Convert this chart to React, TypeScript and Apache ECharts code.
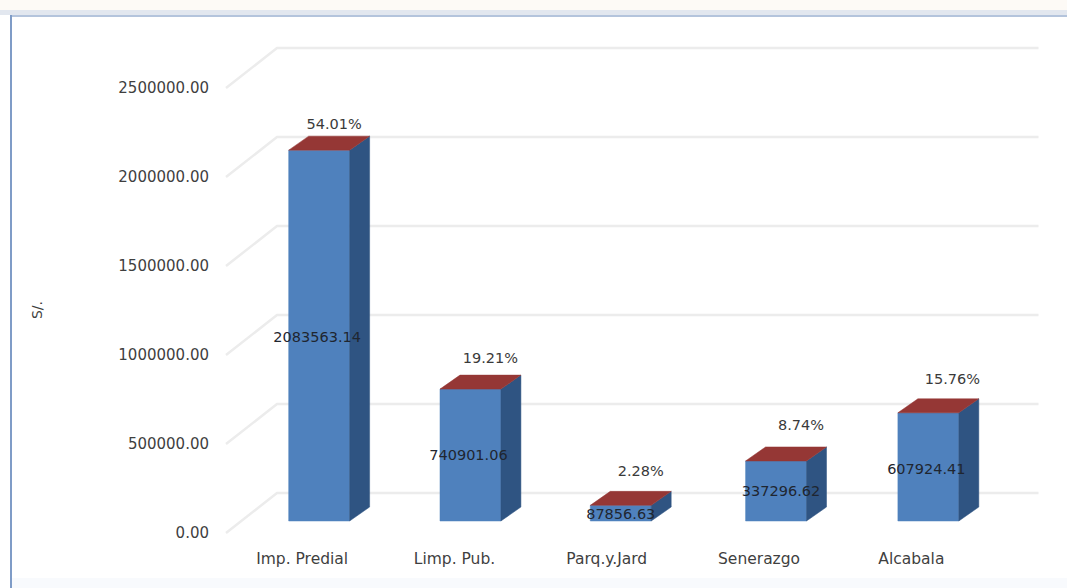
import React, { useEffect, useRef } from "react";
import * as echarts from "echarts";

// Tax collection by concept, in soles
const categories = ["Imp. Predial", "Limp. Pub.", "Parq.y.Jard", "Senerazgo", "Alcabala"];
const amounts = [2083563.14, 740901.06, 87856.63, 337296.62, 607924.41];
const shares = ["54.01%", "19.21%", "2.28%", "8.74%", "15.76%"];
const axisTicks = [0, 500000, 1000000, 1500000, 2000000, 2500000];

const FONT = '"DejaVu Sans", sans-serif';
const FRONT = "#4f81bd";
const SIDE = "#2f5482";
const TOP = "#953735";
const GRID_LINE = "#ececec";

// Oblique projection of the plot box: wall depth, and where the bars sit inside it
const WALL_DX = 51;
const WALL_DY = -40;
const BAR_SHIFT_X = 17;
const BAR_SHIFT_Y = -12;
const BAR_DX = 20;
const BAR_DY = -14;
const BAR_RATIO = 0.4;

// Per-bar fine placement of the bar body and its two labels
const barNudgeX = [0, -1, -3, 0, 0];
const amountNudgeX = [-2, -2, 0, 5, -2];
const amountNudgeY = [1, 0, 1, 0, 2];
const shareNudgeX = [15, 20, 20, 25, 24];
const shareNudgeY = [-26, -31, -34, -36, -34];

function renderWall(params: any, api: any) {
  const v = api.value(1);
  const cs = params.coordSys;
  const y0 = api.coord([0, v])[1];
  const left = cs.x;
  const right = cs.x + cs.width + WALL_DX;
  const backY = y0 + WALL_DY;
  return {
    type: "polyline",
    shape: { points: [[left, y0], [left + WALL_DX, backY], [right, backY]] },
    style: { stroke: GRID_LINE, lineWidth: 2.5, fill: "none" },
    silent: true,
  };
}

function renderBar(params: any, api: any) {
  const i = api.value(0);
  const v = api.value(1);
  const [cx, yTop0] = api.coord([i, v]);
  const yBase0 = api.coord([i, 0])[1];
  const w = api.size([1, 0])[0] * BAR_RATIO;
  const x0 = cx - w / 2 + BAR_SHIFT_X + barNudgeX[i];
  const x1 = x0 + w;
  const yTop = yTop0 + BAR_SHIFT_Y;
  const yBase = yBase0 + BAR_SHIFT_Y;
  const mid = (x0 + x1) / 2;
  const poly = (points: number[][], fill: string) => ({
    type: "polygon",
    shape: { points },
    style: { fill, stroke: fill, lineWidth: 0.5 },
  });
  const text = (t: string, x: number, y: number, fill: string) => ({
    type: "text",
    z2: 10,
    style: { text: t, x, y, fill, font: `14.5px ${FONT}`, align: "center", verticalAlign: "middle" },
  });
  return {
    type: "group",
    children: [
      poly([[x0, yTop], [x1, yTop], [x1, yBase], [x0, yBase]], FRONT),
      poly([[x1, yTop], [x1 + BAR_DX, yTop + BAR_DY], [x1 + BAR_DX, yBase + BAR_DY], [x1, yBase]], SIDE),
      poly([[x0, yTop], [x0 + BAR_DX, yTop + BAR_DY], [x1 + BAR_DX, yTop + BAR_DY], [x1, yTop]], TOP),
      text(v.toFixed(2), mid + amountNudgeX[i], (yTop + yBase) / 2 + amountNudgeY[i], "#1f2630"),
      text(shares[i], mid + shareNudgeX[i], yTop + shareNudgeY[i], "#3a3a3a"),
    ],
  };
}

export default function App() {
  const ref = useRef<HTMLDivElement>(null);

  useEffect(() => {
    document.body.style.margin = "0";
    document.body.style.background = "#ffffff";
    const chart = echarts.init(ref.current!, null, { renderer: "svg" });
    chart.setOption({
      animation: false,
      backgroundColor: "#ffffff",
      grid: { left: 226, top: 88, width: 761.5, height: 445, containLabel: false },
      xAxis: {
        type: "category",
        data: categories,
        axisLine: { show: false },
        axisTick: { show: false },
        splitLine: { show: false },
        axisLabel: { color: "#3f3f3f", fontFamily: FONT, fontSize: 15.5, margin: 18 },
      },
      yAxis: {
        type: "value",
        min: 0,
        max: axisTicks[axisTicks.length - 1],
        interval: axisTicks[1],
        axisLine: { show: false },
        axisTick: { show: false },
        splitLine: { show: false },
        axisLabel: {
          color: "#3f3f3f",
          fontFamily: FONT,
          fontSize: 15,
          margin: 17,
          formatter: (v: number) => v.toFixed(2),
        },
      },
      graphic: [
        { type: "rect", shape: { x: 0, y: 0, width: 1067, height: 10 }, style: { fill: "#fdfaf6" } },
        { type: "rect", shape: { x: 0, y: 10, width: 1067, height: 5 }, style: { fill: "#e2e7ef" } },
        { type: "rect", shape: { x: 10, y: 15, width: 1057, height: 2 }, style: { fill: "#b4c4dc" } },
        { type: "rect", shape: { x: 10, y: 15, width: 2, height: 573 }, style: { fill: "#7f9cc7" } },
        { type: "rect", shape: { x: 12, y: 578, width: 1055, height: 10 }, style: { fill: "#f8fafd" } },
        {
          type: "text",
          x: 37,
          y: 310,
          rotation: Math.PI / 2,
          style: { text: "S/.", fill: "#3f3f3f", font: `14px ${FONT}`, align: "center", verticalAlign: "middle" },
        },
      ],
      series: [
        {
          type: "custom",
          renderItem: renderWall,
          data: axisTicks.map((v) => [0, v]),
          clip: false,
          silent: true,
          z: 1,
        },
        {
          type: "custom",
          renderItem: renderBar,
          data: amounts.map((v, i) => [i, v]),
          clip: false,
          silent: true,
          z: 2,
        },
      ],
    });
    return () => chart.dispose();
  }, []);

  return <div ref={ref} style={{ width: 1067, height: 588 }} />;
}
